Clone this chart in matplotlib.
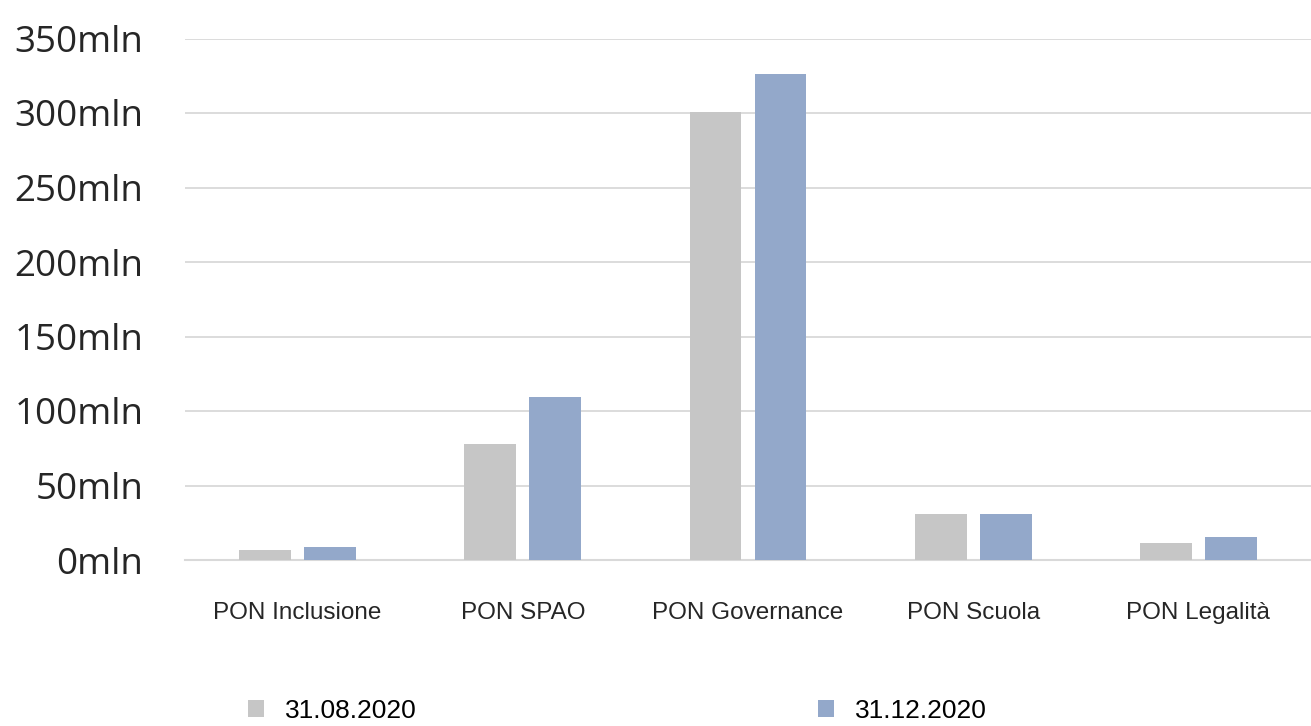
import matplotlib.pyplot as plt
import numpy as np

categories = ["PON Inclusione", "PON SPAO", "PON Governance", "PON Scuola", "PON Legalità"]
series_names = ["31.08.2020", "31.12.2020"]
values_aug = [6.7, 78.0, 301.0, 31.0, 11.6]
values_dec = [8.7, 109.5, 326.0, 31.0, 15.4]
y_ticks = [0, 50, 100, 150, 200, 250, 300, 350]
colors = ["#C6C6C6", "#93A8CA"]

fig = plt.figure(figsize=(13.11, 7.26), dpi=100)
ax = fig.add_axes([185 / 1311, 1 - 560 / 726, 1 - 185 / 1311, (560 - 38.5) / 726])

x = np.arange(len(categories))
w = 0.23
gap = 0.058
ax.bar(x - (w + gap) / 2, values_aug, w, color=colors[0], label=series_names[0], zorder=3)
ax.bar(x + (w + gap) / 2, values_dec, w, color=colors[1], label=series_names[1], zorder=3)

ax.set_xlim(-0.5, len(categories) - 0.5)
ax.set_ylim(0, 350)
ax.set_yticks(y_ticks)
ax.set_yticklabels(["{0}mln".format(t) for t in y_ticks], fontsize=26.5,
                   family=["Open Sans", "DejaVu Sans"], color="#262626")
ax.set_xticks(x)
ax.set_xticklabels(categories, fontsize=17.5, family=["Liberation Sans", "DejaVu Sans"],
                   color="#262626")
ax.tick_params(axis="y", length=0, pad=30)
ax.tick_params(axis="x", length=0, pad=30)

ax.grid(axis="y", color="#D9D9D9", linewidth=1.3, zorder=0)
for s in ["top", "right", "left"]:
    ax.spines[s].set_visible(False)
ax.spines["bottom"].set_color("#D9D9D9")
ax.spines["bottom"].set_linewidth(1.5)

fig.legend(loc="center left", bbox_to_anchor=(248 / 1311, 1 - 711 / 726), ncol=2,
           frameon=False, handlelength=0.6, handleheight=0.6, handletextpad=0.8,
           columnspacing=15.2, borderpad=0, borderaxespad=0,
           prop={"family": ["Liberation Sans", "DejaVu Sans"], "size": 19})

fig.savefig("out.png", dpi=100)
